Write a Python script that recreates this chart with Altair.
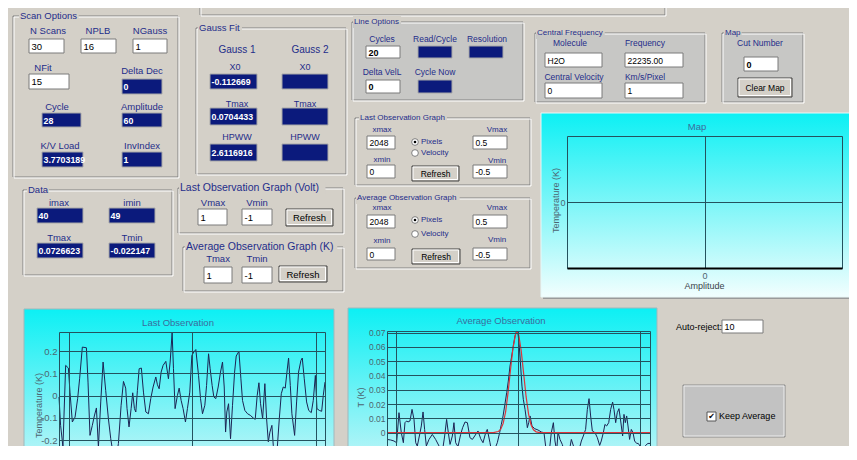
import altair as alt
import pandas as pd

# ================= values =================
# Last Observation spectrum: (channel, temperature K)
last_obs = [
    (-81, -0.006), (-68, -0.133), (-49, -0.230), (-27, 0.136), (-5, 0.124),
    (8, 0.016), (27, -0.118), (49, -0.096), (70, -0.013), (86, 0.076),
    (108, 0.218), (141, 0.215), (154, 0.061), (170, -0.178), (189, -0.133),
    (205, -0.091), (222, -0.055), (238, -0.230), (257, -0.028), (276, 0.151),
    (297, 0.024), (319, -0.103), (338, -0.193), (357, -0.260), (378, -0.290),
    (400, -0.215), (422, -0.043), (441, 0.064), (459, 0.034), (470, -0.058),
    (486, -0.140), (503, -0.058), (516, 0.013), (530, -0.058), (541, -0.073),
    (554, 0.024), (568, 0.121), (586, 0.124), (603, 0.016), (622, -0.073),
    (643, -0.081), (662, -0.013), (681, 0.039), (703, 0.084), (716, 0.049),
    (730, 0.031), (746, 0.106), (762, 0.136), (784, 0.154), (805, 0.076),
    (819, 0.151), (835, 0.282), (846, 0.121), (859, -0.058), (878, 0.001),
    (892, 0.034), (908, -0.021), (924, -0.058), (943, -0.118), (959, -0.058),
    (978, 0.016), (995, 0.181), (1011, 0.196), (1027, 0.207), (1049, 0.091),
    (1065, -0.013), (1081, -0.081), (1100, -0.043), (1114, 0.046), (1130, 0.188),
    (1143, 0.121), (1159, 0.046), (1173, -0.006), (1189, -0.013), (1208, 0.039),
    (1227, 0.106), (1243, 0.151), (1257, 0.039), (1268, -0.163), (1278, -0.073),
    (1292, -0.036), (1308, -0.193), (1324, -0.043), (1341, 0.106), (1354, 0.178),
    (1376, 0.199), (1392, 0.076), (1405, -0.021), (1424, -0.066), (1446, -0.081),
    (1468, -0.088), (1492, -0.100), (1508, -0.106), (1524, 0.001), (1538, 0.058),
    (1551, -0.036), (1568, -0.103), (1586, 0.054), (1600, -0.103), (1614, -0.207),
    (1627, -0.163), (1643, -0.133), (1654, -0.222), (1670, -0.290), (1686, -0.237),
    (1703, -0.103), (1719, 0.009), (1735, 0.039), (1751, 0.034), (1765, 0.106),
    (1778, 0.169), (1792, 0.046), (1805, -0.081), (1827, -0.178), (1843, -0.028),
    (1859, 0.106), (1878, 0.158), (1889, 0.169), (1905, 0.076), (1924, -0.028),
    (1941, -0.066), (1962, -0.076), (1978, -0.021), (1995, 0.091), (2008, -0.058),
    (2027, -0.066), (2046, -0.070), (2059, 0.001), (2073, 0.061),
]

# Average Observation spectrum: (channel, temperature K)
avg_obs = [
    (-71, -0.0047), (-41, -0.0051), (-14, -0.0058), (8, -0.0070), (27, 0.0140),
    (46, 0.0000), (63, -0.0070), (76, 0.0070), (90, 0.0082), (101, 0.0075),
    (117, 0.0082), (134, 0.0163), (150, 0.0093), (164, -0.0070), (177, -0.0093),
    (194, -0.0023), (210, 0.0047), (224, 0.0145), (237, 0.0023), (251, -0.0093),
    (273, -0.0047), (300, -0.0012), (327, -0.0047), (355, -0.0093), (382, -0.0135),
    (401, -0.0023), (417, 0.0093), (431, 0.0000), (445, -0.0082), (464, -0.0023),
    (477, 0.0070), (491, -0.0070), (510, -0.0098), (532, -0.0012), (548, 0.0035),
    (568, 0.0075), (587, 0.0070), (608, -0.0035), (628, -0.0047), (647, -0.0023),
    (674, 0.0012), (696, -0.0042), (715, -0.0070), (737, 0.0000), (750, 0.0023),
    (772, -0.0070), (789, -0.0152), (810, -0.0117), (832, -0.0070), (851, 0.0000),
    (865, 0.0058), (879, 0.0117), (892, 0.0186), (909, 0.0280), (922, 0.0361),
    (936, 0.0466), (950, 0.0536), (963, 0.0606), (977, 0.0676), (990, 0.0711),
    (1001, 0.0699), (1012, 0.0606), (1023, 0.0466), (1034, 0.0326), (1045, 0.0233),
    (1059, 0.0163), (1070, 0.0093), (1078, 0.0035), (1089, 0.0070), (1100, 0.0117),
    (1116, 0.0047), (1138, 0.0028), (1165, 0.0019), (1192, 0.0005), (1214, 0.0000),
    (1231, -0.0117), (1241, -0.0175), (1258, -0.0128), (1274, 0.0000), (1291, 0.0070),
    (1304, -0.0058), (1318, -0.0128), (1329, 0.0005), (1345, -0.0047), (1364, -0.0082),
    (1383, -0.0140), (1400, -0.0198), (1419, -0.0140), (1438, -0.0047), (1460, -0.0105),
    (1482, -0.0140), (1501, -0.0121), (1520, -0.0058), (1536, -0.0023), (1555, 0.0023),
    (1569, 0.0163), (1583, 0.0238), (1596, 0.0117), (1610, 0.0012), (1632, 0.0000),
    (1651, -0.0035), (1670, -0.0089), (1683, -0.0058), (1700, 0.0000), (1713, 0.0058),
    (1727, 0.0047), (1744, 0.0070), (1760, 0.0163), (1776, 0.0214), (1787, 0.0163),
    (1801, 0.0070), (1814, 0.0140), (1828, 0.0168), (1842, 0.0082), (1858, -0.0023),
    (1869, 0.0128), (1880, 0.0070), (1891, 0.0117), (1902, 0.0047), (1915, -0.0047),
    (1929, 0.0023), (1943, 0.0000), (1956, -0.0058), (1973, -0.0075), (1986, -0.0075),
    (2000, -0.0093), (2011, -0.0135), (2027, -0.0105), (2046, -0.0089), (2065, -0.0075),
    (2082, -0.0075),
]

# Gaussian fit curve (red)
gauss_fit = [
    (-71, 0.0), (800, 0.0), (840, 0.0008), (860, 0.0025), (880, 0.0065),
    (900, 0.0145), (920, 0.028), (940, 0.044), (960, 0.059), (980, 0.0685),
    (993, 0.0705), (1008, 0.068), (1028, 0.057), (1048, 0.041), (1068, 0.025),
    (1088, 0.013), (1108, 0.0055), (1128, 0.002), (1150, 0.0006), (1180, 0.0),
    (2082, 0.0),
]

last_x_domain = [-81, 2073]
last_t_domain = [-0.2256, 0.2857]
last_t_ticks = [-0.2, -0.1, 0.0, 0.1, 0.2]
avg_x_domain = [-71, 2082]
avg_t_domain = [-0.0093, 0.0711]
avg_t_ticks = [0.0, 0.01, 0.02, 0.03, 0.04, 0.05, 0.06, 0.07]
x_grid = [0, 1000, 2000]
map_domain = [-1, 1]
map_ticks = [0]

# ---- GUI texts (values) ----
white_field_texts = ["30", "16", "1", "15", "20", "0", "H2O", "22235.00", "0", "1",
                     "0", "2048", "0", "0.5", "-0.5", "2048", "0", "0.5", "-0.5",
                     "1", "-1", "1", "-1", "10"]
dark_field_texts = ["0", "28", "60", "3.7703189", "1",
                    "-0.1126690", "", "0.0704433", "", "2.6116916", "",
                    "", "", "",
                    "40", "49", "0.0726623", "-0.0221473"]
center_label_texts = ["N Scans", "NPLB", "NGauss", "NFit", "Delta Dec", "Cycle",
                      "Amplitude", "K/V Load", "InvIndex",
                      "Gauss 1", "Gauss 2", "X0", "X0", "Tmax", "Tmax", "HPWW", "HPWW",
                      "Cycles", "Read/Cycle", "Resolution", "Delta VelL", "Cycle Now",
                      "Molecule", "Frequency", "Central Velocity", "Km/s/Pixel", "Cut Number",
                      "imax", "imin", "Tmax", "Tmin",
                      "Vmax", "Vmin", "Tmax", "Tmin",
                      "xmax", "xmin", "Vmax", "Vmin", "xmax", "xmin", "Vmax", "Vmin"]
group_titles = ["Scan Options", "Gauss Fit", "Line Options", "Central Frequency", "Map",
                "Data", "Last Observation Graph  (Volt)", "Average Observation Graph  (K)",
                "Last Observation Graph", "Average  Observation Graph"]
button_texts = ["Refresh", "Refresh", "Refresh", "Refresh", "Clear Map"]
radio_texts = ["Pixels", "Velocity", "Pixels", "Velocity"]
other_texts = ["Auto-reject:", "Keep Average"]
panel_titles = ["Map", "Last Observation", "Average Observation"]

# ================= layout / styles (page pixel coordinates) =================
BG = "#d4d0c8"
DARK_BG = "#c7c7c5"
NAVY = "#1f2d8a"
FIELD_DARK = "#0b1a7c"
GRID = "#24525e"
FONT = "Liberation Sans"

group_boxes = [  # x1, y1, x2, y2, title_x, fill, title font
    (13, 16, 178, 177, 20, BG, 9.5), (196, 28, 346, 174, 199, BG, 9.5),
    (352, 22, 523, 100, 354, DARK_BG, 8), (535, 33, 705, 102, 537, DARK_BG, 8),
    (722, 33, 803, 102, 725, DARK_BG, 8), (23, 190, 172, 275, 28, BG, 9.5),
    (178, 188, 343, 233, 180, BG, 10.5), (183, 247, 343, 291, 186, BG, 10.5),
    (355, 118, 530, 185, 360, BG, 8), (355, 198, 530, 268, 357, BG, 8),
]
plain_frames = [(200, -10, 665, 15)]
white_field_boxes = [
    (29, 39, 64, 53, 9.5, 0), (81, 39, 116, 53, 9.5, 0), (133, 39, 167, 53, 9.5, 0),
    (29, 74, 69, 89, 9.5, 0), (366, 46, 400, 58, 9, 1), (366, 80, 400, 93, 9, 1),
    (545, 53, 602, 67, 8.5, 0), (625, 53, 683, 67, 8.5, 0), (545, 83, 602, 98, 8.5, 0),
    (625, 83, 683, 98, 8.5, 0), (744, 57, 778, 71, 9, 1),
    (367, 136, 395, 149, 8.5, 0), (367, 165, 395, 178, 8.5, 0),
    (473, 136, 507, 149, 8.5, 0), (473, 165, 507, 178, 8.5, 0),
    (367, 215, 395, 228, 8.5, 0), (367, 248, 395, 260, 8.5, 0),
    (473, 215, 507, 228, 8.5, 0), (473, 248, 507, 260, 8.5, 0),
    (198, 209, 227, 225, 9.5, 0), (242, 209, 272, 225, 9.5, 0),
    (204, 267, 232, 283, 9.5, 0), (242, 267, 272, 283, 9.5, 0),
    (722, 320, 763, 333, 9, 0),
]
dark_field_boxes = [
    (122, 79, 162, 94), (42, 113, 81, 127), (122, 113, 162, 127), (42, 152, 83, 167),
    (122, 152, 162, 167), (210, 74, 257, 89), (282, 74, 328, 89), (210, 108, 257, 125),
    (282, 108, 328, 125), (210, 144, 257, 161), (282, 144, 328, 161),
    (418, 46, 452, 58), (469, 46, 503, 58), (418, 80, 452, 93),
    (37, 208, 83, 223), (109, 208, 155, 223), (37, 243, 83, 258), (109, 243, 155, 258),
]
center_label_pos = [
    (48, 31, 9.5), (98, 31, 9.5), (150, 31, 9.5), (43, 68, 9.5), (142, 71, 9.5),
    (57, 107, 9.5), (142, 107, 9.5), (60, 146, 9.5), (142, 146, 9.5),
    (237, 50, 10), (310, 50, 10), (235, 67, 9), (305, 67, 9), (237, 104, 9),
    (305, 104, 9), (237, 137, 9), (305, 137, 9),
    (382, 39, 8.5), (435, 39, 8.5), (487, 39, 8.5), (382, 72, 8.5), (435, 72, 8.5),
    (570, 43, 8.5), (645, 43, 8.5), (574, 77, 8.5), (645, 77, 8.5), (760, 43, 8.5),
    (59, 203, 9.5), (132, 203, 9.5), (59, 238, 9.5), (132, 238, 9.5),
    (213, 203, 9.5), (257, 203, 9.5), (218, 259, 9.5), (257, 259, 9.5),
    (382, 130, 8), (382, 160, 8), (497, 130, 8), (497, 161, 8),
    (382, 208, 8), (382, 241, 8), (497, 208, 8), (497, 240, 8),
]
button_boxes = [(286, 209, 333, 226, 9.5), (279, 266, 327, 282, 9.5),
                (412, 166, 459, 181, 8.5), (412, 249, 460, 264, 8.5),
                (738, 78, 792, 97, 8.5)]
radio_pos = [(415, 142, 1), (415, 153, 0), (415, 220, 1), (415, 234, 0)]
other_pos = [(676, 327, 9), (719, 416, 9)]
panel_title_pos = [(697, 127), (178, 323), (501, 321)]
keep_panel = (683, 385, 785, 437)
check_box = (707, 412, 716, 421)
map_panel = (541, 113, 851, 297)
low_panels = [(24, 309, 334, 452), (348, 308, 657, 452)]


def text_width(s, fs):
    w = 0.0
    for ch in s:
        if ch in "il.,:;|!'":
            w += 0.24
        elif ch in "frtI()/- ":
            w += 0.31
        elif ch in "mwMW":
            w += 0.85
        elif ch.isupper():
            w += 0.68
        else:
            w += 0.55
    return w * fs


# ---- build rect table ----
rects = []


def add_rect(x1, y1, x2, y2, fill, stroke):
    rects.append(dict(x1=x1, y1=y1, x2=x2, y2=y2, fill=fill, stroke=stroke))


for (x1, y1, x2, y2) in plain_frames:
    add_rect(x1, y1, x2, y2, "transparent", "#808080")
    add_rect(x1 + 1, y1 + 1, x2 + 1, y2 + 1, "transparent", "#ffffff")
for (x1, y1, x2, y2, tx, fill, fs), title in zip(group_boxes, group_titles):
    add_rect(x1, y1, x2, y2, fill, "#808080")
    add_rect(x1 + 1, y1 + 1, x2 + 1, y2 + 1, "transparent", "#ffffff")
    w = text_width(title, fs)
    add_rect(tx - 1, y1 - 6, tx + w + 1, y1 + 0.5, BG, "transparent")
    add_rect(tx - 1, y1 + 0.5, tx + w + 1, y1 + 6, fill, "transparent")
for (x1, y1, x2, y2, fs, b) in white_field_boxes:
    add_rect(x1, y1, x2, y2, "#ffffff", "#7a7a7a")
for (x1, y1, x2, y2) in dark_field_boxes:
    add_rect(x1, y1, x2, y2, FIELD_DARK, "#a8a8a8")
for (x1, y1, x2, y2, fs) in button_boxes:
    add_rect(x1, y1, x2, y2, BG, "#404040")
    add_rect(x1 + 1, y1 + 1, x2 - 1.5, y2 - 1.5, "transparent", "#ffffff")
add_rect(*keep_panel, "#c2c2c2", "#8c8c8c")
add_rect(keep_panel[0] + 1, keep_panel[1] + 1, keep_panel[2] - 1, keep_panel[3] - 1,
         "transparent", "#eeeeee")
add_rect(*check_box, "#ffffff", "#555555")
rect_df = pd.DataFrame(rects)

PX = alt.Scale(domain=[8, 849], range=[0, 841], nice=False, zero=False)
PY = alt.Scale(domain=[8, 446], range=[0, 438], nice=False, zero=False)


def px(f):
    return alt.X(f, type="quantitative", scale=PX, axis=None)


def py(f):
    return alt.Y(f, type="quantitative", scale=PY, axis=None)


rect_layer = alt.Chart(rect_df).mark_rect(strokeWidth=1).encode(
    x=px("x1"), x2="x2", y=py("y1"), y2="y2",
    fill=alt.Fill("fill:N", scale=None), stroke=alt.Stroke("stroke:N", scale=None),
)

grad_map = {"gradient": "linear", "x1": 0, "y1": 0, "x2": 0, "y2": 1,
            "stops": [{"offset": 0, "color": "#0cf0f4"},
                      {"offset": 0.5, "color": "#7ff6f8"},
                      {"offset": 1, "color": "#f2fefe"}]}
grad_low = {"gradient": "linear", "x1": 0, "y1": 0, "x2": 0, "y2": 1,
            "stops": [{"offset": 0, "color": "#0cf0f4"},
                      {"offset": 1, "color": "#b2f4f7"}]}

map_panel_df = pd.DataFrame([dict(x1=map_panel[0], y1=map_panel[1], x2=map_panel[2], y2=map_panel[3])])
shadow_df = pd.DataFrame([dict(x1=map_panel[0] + 2, y1=map_panel[1] + 2, x2=map_panel[2] + 2, y2=map_panel[3] + 2)])
low_panel_df = pd.DataFrame([dict(x1=a, y1=b, x2=c, y2=d) for (a, b, c, d) in low_panels])

shadow_layer = alt.Chart(shadow_df).mark_rect(fill="#9a9a9a").encode(
    x=px("x1"), x2="x2", y=py("y1"), y2="y2")
map_panel_layer = alt.Chart(map_panel_df).mark_rect(fill=grad_map, stroke="#e8f8f8", strokeWidth=1).encode(
    x=px("x1"), x2="x2", y=py("y1"), y2="y2")
low_panel_layer = alt.Chart(low_panel_df).mark_rect(fill=grad_low, stroke="#9fb8bc", strokeWidth=1).encode(
    x=px("x1"), x2="x2", y=py("y1"), y2="y2")

# ---- text tables ----
white_txt = pd.DataFrame([dict(x=b[0] + 2.5, y=(b[1] + b[3]) / 2 + 0.5, t=t, fs=b[4], bold=b[5])
                          for b, t in zip(white_field_boxes, white_field_texts)])
dark_txt = pd.DataFrame([dict(x=b[0] + 1.5, y=(b[1] + b[3]) / 2 + 0.5, t=t)
                         for b, t in zip(dark_field_boxes, dark_field_texts) if t])
center_txt = pd.DataFrame([dict(x=p[0], y=p[1], t=t, fs=p[2])
                           for p, t in zip(center_label_pos, center_label_texts)])
title_txt = pd.DataFrame([dict(x=g[4], y=g[1], t=t, fs=g[6])
                          for g, t in zip(group_boxes, group_titles)])
button_txt = pd.DataFrame([dict(x=(b[0] + b[2]) / 2, y=(b[1] + b[3]) / 2 + 0.5, t=t, fs=b[4])
                           for b, t in zip(button_boxes, button_texts)])
radio_txt = pd.DataFrame([dict(x=p[0] + 6, y=p[1], t=t) for p, t in zip(radio_pos, radio_texts)])
other_txt = pd.DataFrame([dict(x=p[0], y=p[1], t=t, fs=p[2]) for p, t in zip(other_pos, other_texts)])
ptitle_txt = pd.DataFrame([dict(x=p[0], y=p[1], t=t) for p, t in zip(panel_title_pos, panel_titles)])
radio_df = pd.DataFrame([dict(x=p[0], y=p[1], sel=p[2]) for p in radio_pos])
check_df = pd.DataFrame([dict(x=(check_box[0] + check_box[2]) / 2, y=(check_box[1] + check_box[3]) / 2 + 0.5, t="\u2714")])


def txt(df, align, color, weight="normal", size=None, limit=None):
    kw = dict(align=align, baseline="middle", font=FONT, color=color, fontWeight=weight)
    if limit is not None:
        kw["limit"] = limit
        kw["ellipsis"] = "\u200b"
    enc = dict(x=px("x"), y=py("y"), text="t:N")
    if size is None:
        enc["size"] = alt.Size("fs:Q", scale=None)
        m = alt.Chart(df).mark_text(**kw)
    else:
        m = alt.Chart(df).mark_text(fontSize=size, **kw)
    return m.encode(**enc)


white_norm = txt(white_txt[white_txt.bold == 0], "left", "#000000")
white_bold = txt(white_txt[white_txt.bold == 1], "left", "#000000", weight="bold")
dark_layer = txt(dark_txt, "left", "#ffffff", weight="bold", size=8.8, limit=44)
center_layer = txt(center_txt, "center", NAVY)
title_layer = txt(title_txt, "left", NAVY)
button_layer = txt(button_txt, "center", "#000000")
radio_t_layer = txt(radio_txt, "left", NAVY, size=8)
other_layer = txt(other_txt, "left", "#000000")
ptitle_layer = txt(ptitle_txt, "center", "#3b6c9c", size=9.5)
check_layer = alt.Chart(check_df).mark_text(font="DejaVu Sans", fontSize=8, color="#000000",
                                            baseline="middle", align="center").encode(
    x=px("x"), y=py("y"), text="t:N")

radio_outer = alt.Chart(radio_df).mark_point(shape="circle", filled=True, fill="#ffffff",
                                             stroke="#808080", strokeWidth=1, size=45,
                                             opacity=1).encode(x=px("x"), y=py("y"))
radio_dot = alt.Chart(radio_df[radio_df.sel == 1]).mark_point(shape="circle", filled=True,
                                                             color="#000000", size=7,
                                                             opacity=1).encode(x=px("x"), y=py("y"))

widgets = alt.layer(
    rect_layer, shadow_layer, map_panel_layer, low_panel_layer,
    white_norm, white_bold, dark_layer, center_layer, title_layer, button_layer,
    radio_outer, radio_dot, radio_t_layer, other_layer, ptitle_layer, check_layer,
)


# ================= plots =================
def y_axis(values, offset, label_expr, title, title_x, title_y, fs):
    return alt.Axis(orient="left", offset=offset, values=values, grid=True,
                    gridColor=GRID, gridWidth=1, gridOpacity=1, domain=False,
                    ticks=False, labelPadding=2, labelFont=FONT, labelFontSize=fs,
                    labelColor="#4d6470", labelExpr=label_expr, labelOverlap=False,
                    labelFlush=False, labelBound=False, title=title, titleX=title_x,
                    titleY=title_y, titleAngle=-90, titleBaseline="middle",
                    titleAlign="center", titleFont=FONT, titleFontSize=9,
                    titleFontWeight="normal", titleColor="#4d6470", zindex=1)


def x_grid_axis(values):
    # top-oriented so that the grid lines follow the custom y range directly
    return alt.Axis(orient="top", values=values, grid=True, gridColor=GRID,
                    gridWidth=1, gridOpacity=1, domain=False, ticks=False,
                    labels=False, title=None, zindex=1)


# --- Last Observation ---
last_df = pd.DataFrame(last_obs, columns=["x", "t"])
lx = alt.X("x:Q", scale=alt.Scale(domain=last_x_domain, range=[51, 317], nice=False, zero=False),
           axis=x_grid_axis([last_x_domain[0]] + x_grid + [last_x_domain[1]]))
ly = alt.Y("t:Q", scale=alt.Scale(domain=last_t_domain, range=[438, 324], nice=False, zero=False),
           axis=y_axis(last_t_ticks + [last_t_domain[1]], -51,
                       "datum.value > 0.25 ? '' : (datum.value == 0 ? '0' : (datum.value < 0 ? '-' : '') + format(abs(datum.value), '.1f'))",
                       "Temperature (K)", -21, 397, 9.5))
last_plot = alt.Chart(last_df).mark_line(color="#1b2454", strokeWidth=1, clip=True).encode(x=lx, y=ly)

# --- Average Observation ---
avg_df = pd.DataFrame(avg_obs, columns=["x", "t"])
fit_df = pd.DataFrame(gauss_fit, columns=["x", "t"])
ax_scale = alt.Scale(domain=avg_x_domain, range=[379, 642], nice=False, zero=False)
ay_scale = alt.Scale(domain=avg_t_domain, range=[438, 323], nice=False, zero=False)
ax = alt.X("x:Q", scale=ax_scale, axis=x_grid_axis([avg_x_domain[0]] + x_grid + [avg_x_domain[1]]))
ay = alt.Y("t:Q", scale=ay_scale,
           axis=y_axis(avg_t_ticks + [avg_t_domain[1]], -379,
                       "datum.value > 0.0705 ? '' : (datum.value == 0 ? '0' : (datum.value < 0 ? '-' : '') + format(abs(datum.value), '.2f'))",
                       "T (K)", -27, 389, 8.5))
avg_plot = alt.layer(
    alt.Chart(avg_df).mark_line(color="#1b2454", strokeWidth=1, clip=True).encode(x=ax, y=ay),
    alt.Chart(fit_df).mark_line(color="#e0343a", strokeWidth=1.2, clip=True).encode(x=ax, y=ay),
)

# --- Map (empty) ---
map_df = pd.DataFrame({"amp": [0.0], "temp": [0.0]})
mx = alt.X("amp:Q", scale=alt.Scale(domain=map_domain, range=[559, 834], nice=False, zero=False),
           axis=alt.Axis(orient="top", offset=-260, values=[-1] + map_ticks + [1], grid=True,
                         gridColor=GRID, gridWidth=1, domain=True, domainColor="#000000",
                         domainWidth=2, ticks=False, labelPadding=-12, labelFont=FONT,
                         labelFontSize=9, labelColor="#4d6470",
                         labelExpr="datum.value == 0 ? '0' : ''", labelOverlap=False,
                         labelFlush=False, title="Amplitude", titleX=696, titleY=17,
                         titleBaseline="middle", titleAlign="center", titleFont=FONT,
                         titleFontSize=9, titleFontWeight="normal", titleColor="#39424a",
                         zindex=1))
my = alt.Y("temp:Q", scale=alt.Scale(domain=map_domain, range=[260, 128], nice=False, zero=False),
           axis=y_axis([-1] + map_ticks + [1], -559, "datum.value == 0 ? '0' : ''",
                       "Temperature (K)", -12, 192, 9))
map_plot = alt.Chart(map_df).mark_point(opacity=0).encode(x=mx, y=my)

chart = alt.layer(widgets, last_plot, avg_plot, map_plot).resolve_scale(
    x="independent", y="independent"
).resolve_axis(
    x="independent", y="independent"
).properties(
    width=841, height=438, padding=0,
    autosize=alt.AutoSizeParams(type="none", contains="padding"),
).configure(
    background=BG, font=FONT
).configure_view(stroke=None)

chart.save("out.html", embed_options={"renderer": "svg", "actions": False})
